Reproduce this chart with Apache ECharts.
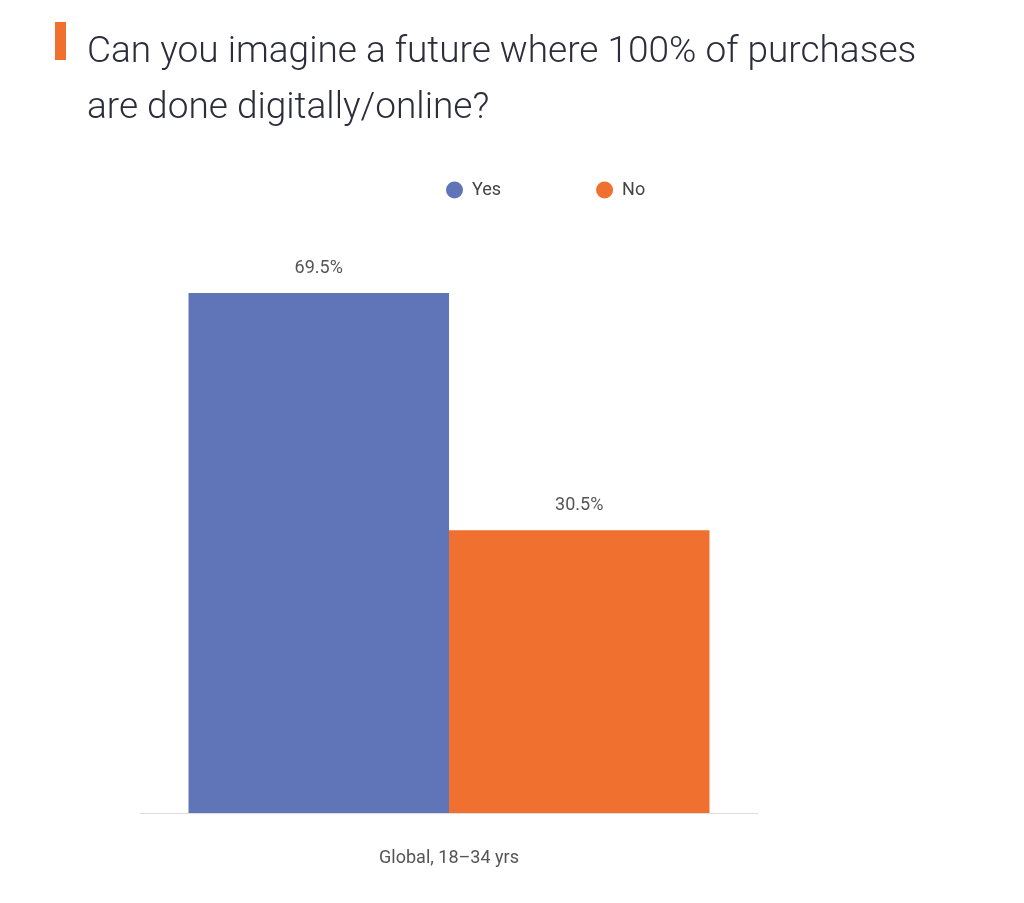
<!DOCTYPE html>
<html>
<head>
<meta charset="utf-8">
<script src="https://cdn.jsdelivr.net/npm/echarts@6/dist/echarts.min.js"></script>
<style>
  body { margin: 0; background: #fff; }
  #chart { width: 1024px; height: 903px; }
</style>
</head>
<body>
<div id="chart"></div>
<script>
var categories = ['Global, 18\u201334 yrs'];
var yesValues = [69.5];
var noValues = [30.5];
// the original chart's value scale starts below zero, so bars are drawn with this offset
var baseOffset = 16;

var chart = echarts.init(document.getElementById('chart'));
function shifted(arr) { return arr.map(function (v) { return { value: v + baseOffset, real: v }; }); }
var labelStyle = {
    show: true, position: 'top', color: '#555', fontSize: 18,
    fontFamily: 'Roboto', distance: 16,
    formatter: function (p) { return p.data.real.toFixed(1) + '%'; }
};
chart.setOption({
    title: {
        text: 'Can you imagine a future where 100% of purchases\nare done digitally/online?',
        left: 82, top: 20,
        textStyle: { fontFamily: 'Roboto', fontWeight: 300, fontSize: 37, color: '#2c2c3a', lineHeight: 56 }
    },
    graphic: [{ type: 'rect', shape: { x: 55, y: 22, width: 11, height: 38 }, style: { fill: '#f07030' } }],
    legend: {
        data: ['Yes', 'No'], left: 441, top: 176, icon: 'circle',
        itemWidth: 17, itemHeight: 17, itemGap: 95,
        textStyle: { fontFamily: 'Roboto', fontSize: 18, color: '#444', padding: [0, 0, 0, 4] }
    },
    grid: { left: 140, right: 266, top: 290, bottom: 90 },
    xAxis: {
        type: 'category', data: categories,
        axisLine: { lineStyle: { color: '#ddd' } }, axisTick: { show: false },
        axisLabel: { color: '#555', fontSize: 18, fontFamily: 'Roboto', margin: 36 }
    },
    yAxis: { type: 'value', min: 0, max: 86, show: false, splitLine: { show: false } },
    series: [
        { name: 'Yes', type: 'bar', data: shifted(yesValues), itemStyle: { color: '#6074b8' }, label: labelStyle, barGap: 0, barCategoryGap: '15.7%' },
        { name: 'No', type: 'bar', data: shifted(noValues), itemStyle: { color: '#f07030' }, label: labelStyle }
    ]
});
</script>
</body>
</html>
